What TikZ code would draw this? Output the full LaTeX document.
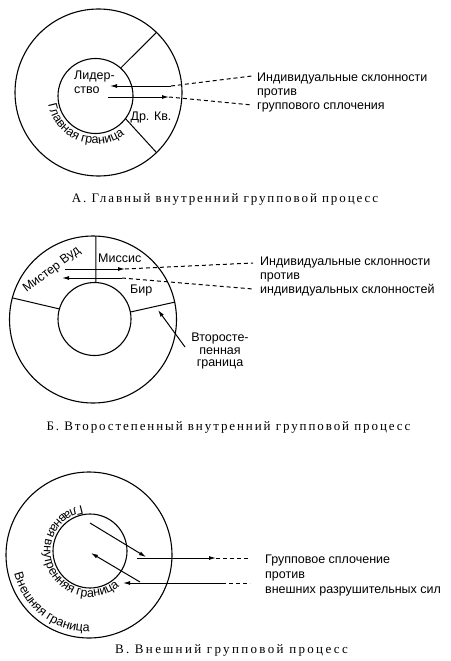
\documentclass[tikz,border=0pt]{standalone}
\usepackage{fontspec}
\setmainfont{Liberation Sans}
\newfontfamily\capfont{Liberation Serif}[LetterSpace=14.7]
\newfontfamily\capfontw{Liberation Serif}[LetterSpace=18]
\usetikzlibrary{arrows.meta,decorations.text}
\begin{document}
\begin{tikzpicture}[x=1pt,y=1pt,
  ring/.style={circle, draw, line width=1.1pt, inner sep=0pt, outer sep=0pt, minimum size=#1},
  ln/.style={line width=1pt},
  arr/.style={line width=1pt, -{Latex[length=7pt,width=4pt]}},
  dsh/.style={line width=1pt, dash pattern=on 4pt off 3pt},
  lbl/.style={font=\fontsize{12.5}{14}\selectfont, inner sep=0pt},
  captext/.style={font=\capfont\fontsize{13}{14}\selectfont, inner sep=0pt, anchor=base},
  curved/.style={decorate, decoration={text along path, text align=left, text={|\fontsize{12.5}{14}\selectfont|#1}}},
]
\useasboundingbox (0,0) rectangle (450,-661);

% ---------- A ----------
\node[ring=167pt] (oA) at (98.5,-92.5) {};
\node[ring=75pt] (iA) at (95.5,-96) {};
\draw[ln] (iA.48) -- (oA.46);
\draw[ln] (iA.-37) -- (oA.-46);
\node[lbl, align=left, anchor=base west] (lead) at (74,-93) {Лидер-\\ство};
\node[lbl, anchor=base] (drkv) at (151,-120) {Др. Кв.};
\path[curved={Главная граница}] ([shift={(190:48)}]iA.center) arc[start angle=190, end angle=330, radius=48];
\node[lbl, align=left, anchor=base west] (tA) at (257,-109.5) {Индивидуальные склонности\\против\\группового сплочения};
\coordinate (aA1) at (171,-86);
\coordinate (aA2) at (110,-86);
\coordinate (aA3) at (108,-97);
\coordinate (aA4) at (169,-97);
\coordinate (pAU) at (252,-76);
\coordinate (pAL) at (252,-105);
\draw[arr] (aA1) -- (aA2);
\draw[dsh] (aA1) -- (pAU);
\draw[arr] (aA3) -- (aA4);
\draw[dsh] (aA4) -- (pAL);
\node[captext] (capA) at (225,-202) {А. Главный внутренний групповой процесс};

% ---------- B ----------
\node[ring=167pt] (oB) at (93,-319.5) {};
\node[ring=73pt] (iB) at (94.5,-319) {};
\draw[ln] (oB.88) -- (iB.88);
\draw[ln] (oB.165.6) -- (iB.164);
\draw[ln] (iB.11) -- (oB.12);
\node[lbl, rotate=37] (wood) at (52,-270) {Мистер Вуд};
\node[lbl, anchor=base west] (miss) at (98,-262) {Миссис};
\node[lbl, anchor=base west] (bir) at (130,-293) {Бир};
\node[lbl, align=left, anchor=base west] (tB) at (260,-293) {Индивидуальные склонности\\против\\индивидуальных склонностей};
\coordinate (bU0) at (65,-269);
\coordinate (bU1) at (125,-269);
\coordinate (bU2) at (253,-263);
\coordinate (bL0) at (122,-278);
\coordinate (bL1) at (62,-278);
\coordinate (bL2) at (253,-289);
\draw[arr] (bU0) -- (bU1);
\draw[dsh] (bU1) -- (bU2);
\draw[arr] (bL0) -- (bL1);
\draw[dsh] (bL0) -- (bL2);
\node[lbl, align=center, anchor=base, font=\fontsize{12.5}{12.5}\selectfont] (sec) at (220,-366.5) {Второсте-\\пенная\\граница};
\coordinate (sT) at (185,-347);
\coordinate (sH) at (158,-310);
\draw[arr] (sT) -- (sH);
\node[captext] (capB) at (228.5,-430.5) {Б. Второстепенный внутренний групповой процесс};

% ---------- C ----------
\node[ring=166pt] (oC) at (89,-555) {};
\node[ring=74pt] (iC) at (90,-551) {};
\path[curved={Главная внутренняя граница}] ([shift={(100:46)}]iC.center) arc[start angle=100, end angle=340, radius=46];
\path[curved={Внешняя граница}] ([shift={(194:77)}]oC.center) arc[start angle=194, end angle=320, radius=77];
\node[lbl, align=left, anchor=base west, font=\fontsize{12.5}{15}\selectfont] (tC) at (265,-593) {Групповое сплочение\\против\\внешних разрушительных сил};
\coordinate (c1) at (90,-523);
\coordinate (c2) at (146,-557);
\coordinate (c3) at (137,-558);
\coordinate (c4) at (216,-558);
\coordinate (c5) at (222,-583);
\coordinate (c6) at (123,-583);
\coordinate (c7) at (140,-582);
\coordinate (c8) at (91,-553);
\coordinate (pCU) at (250,-558);
\coordinate (pCL) at (250,-583);
\draw[arr] (c1) -- (c2);
\draw[arr] (c3) -- (c4);
\draw[dsh] (c4) -- (pCU);
\draw[arr] (c5) -- (c6);
\draw[dsh] (c5) -- (pCL);
\draw[arr] (c7) -- (c8);
\node[captext, font=\capfontw\fontsize{13}{14}\selectfont] (capC) at (231.5,-653) {В. Внешний групповой процесс};
\end{tikzpicture}
\end{document}
